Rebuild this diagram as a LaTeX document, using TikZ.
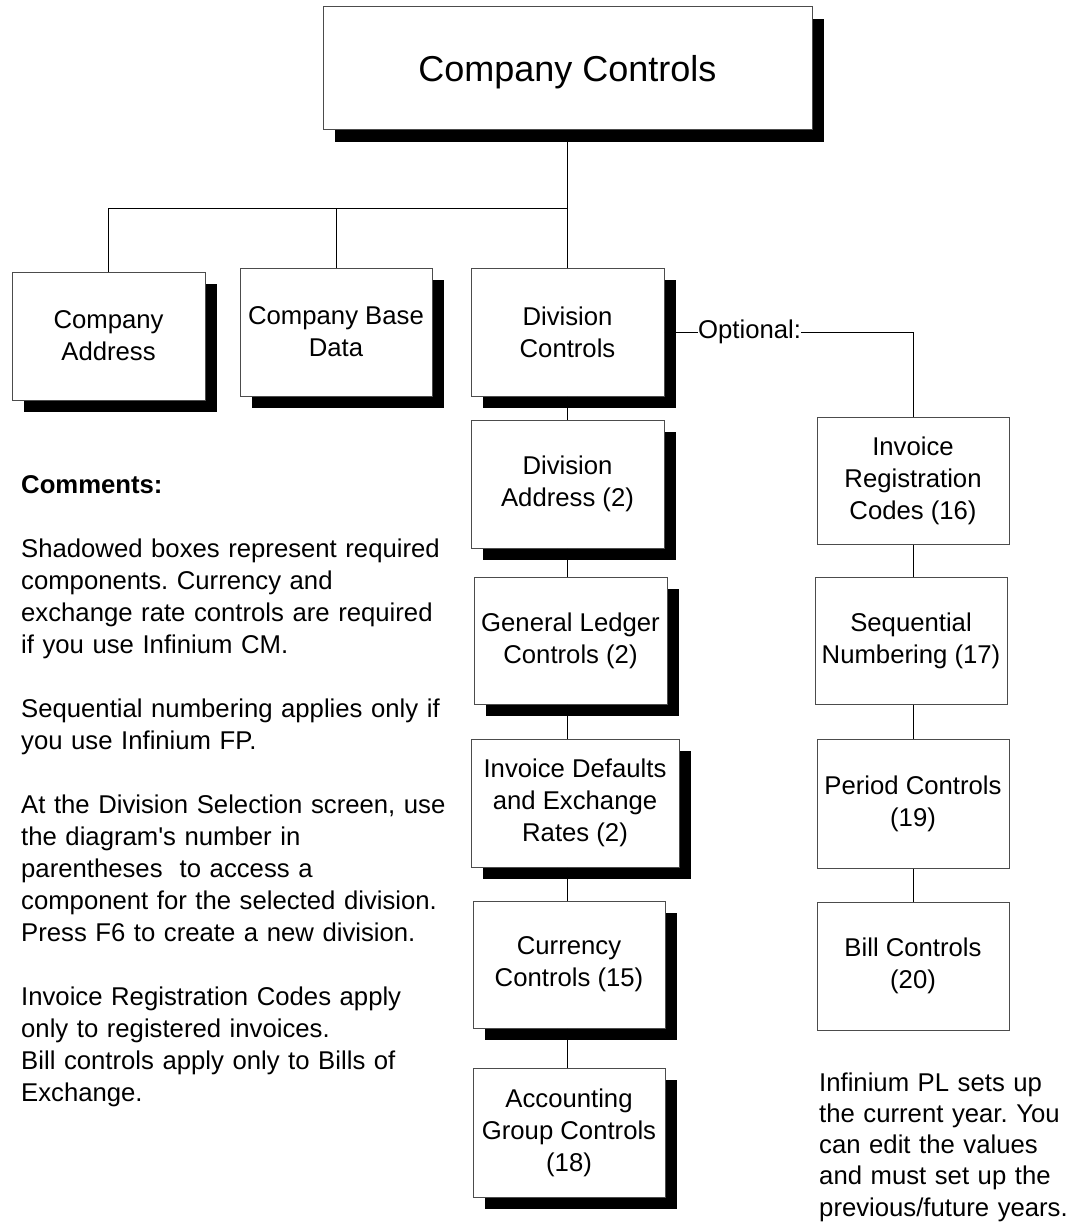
\documentclass[tikz,border=0pt]{standalone}
\usepackage{fontspec}
\setmainfont{Liberation Sans}[Ligatures=TeXOff]
\usetikzlibrary{shadows}
\frenchspacing
\begin{document}
\frenchspacing
\begin{tikzpicture}[x=1pt,y=-1pt,
  every node/.style={font=\fontsize{25.7}{32}\selectfont},
  box/.style={draw=black!70, line width=1pt, fill=white, align=center, inner sep=0pt},
  shadowbox/.style={box, drop shadow={shadow xshift=12pt, shadow yshift=-12pt, opacity=1, fill=black}},
  link/.style={draw=black, line width=1pt},
  note/.style={align=left, inner sep=0pt, anchor=base west}
]
\useasboundingbox[fill=white] (0,0) rectangle (1071,1225);

% top level
\node[shadowbox, minimum width=489pt, minimum height=123pt, text depth=0pt,
      font=\fontsize{36}{42}\selectfont] (cc) at (567.5,68.5) {Company Controls};

% second level
\node[shadowbox, minimum width=193pt, minimum height=128pt] (ca)  at (108.5,336) {Company\\Address};
\node[shadowbox, minimum width=192pt, minimum height=128pt] (cbd) at (336,332)   {Company Base\\Data};
\node[shadowbox, minimum width=193pt, minimum height=128pt] (dc)  at (567.5,332) {Division\\Controls};

% division components (required)
\node[shadowbox, minimum width=193pt, minimum height=128pt] (da)   at (567.5,484)   {Division\\Address (2)};
\node[shadowbox, minimum width=193pt, minimum height=127pt] (gl)   at (570.5,640.5) {General Ledger\\Controls (2)};
\node[shadowbox, minimum width=208pt, minimum height=128pt] (ider) at (575,803)     {Invoice Defaults\\and Exchange\\Rates (2)};
\node[shadowbox, minimum width=192pt, minimum height=127pt] (cur)  at (569,964.5)   {Currency\\Controls (15)};
\node[shadowbox, minimum width=192pt, minimum height=129pt] (agc)  at (569,1132.5)  {Accounting\\Group Controls\\(18)};

% optional components
\node[inner sep=0pt, anchor=west] (opt) at (698,332) {Optional:};
\node[box, minimum width=192pt, minimum height=127pt] (irc)  at (913,480.5) {Invoice\\Registration\\Codes (16)};
\node[box, minimum width=192pt, minimum height=127pt] (seq)  at (911,640.5) {Sequential\\Numbering (17)};
\node[box, minimum width=192pt, minimum height=129pt] (per)  at (913,803.5) {Period Controls\\(19)};
\node[box, minimum width=192pt, minimum height=128pt] (bill) at (913,966)   {Bill Controls\\(20)};

% connectors
\coordinate (bar) at (567,208);
\coordinate (midcol) at (567,0);
\coordinate (rcol) at (913,0);
\draw[link] (cc.south -| midcol) -- (dc.north -| midcol);
\draw[link] (ca.north) |- (bar);
\draw[link] (cbd.north) -- (cbd.north |- bar);
\draw[link] (dc.south -| midcol) -- (da.north -| midcol);
\draw[link] (da.south -| midcol) -- (gl.north -| midcol);
\draw[link] (gl.south -| midcol) -- (ider.north -| midcol);
\draw[link] (ider.south -| midcol) -- (cur.north -| midcol);
\draw[link] (cur.south -| midcol) -- (agc.north -| midcol);
\draw[link] (dc.east) -- (opt.west);
\draw[link] (opt.east) -| (irc.north -| rcol);
\draw[link] (irc.south -| rcol) -- (seq.north -| rcol);
\draw[link] (seq.south -| rcol) -- (per.north -| rcol);
\draw[link] (per.south -| rcol) -- (bill.north -| rcol);

% notes
\node[note, text width=470pt] (comments) at (21,493) {\frenchspacing
\textbf{Comments:}\\[32pt]
Shadowed boxes represent required\\
components. Currency and\\
exchange rate controls are required\\
if you use Infinium CM.\\[32pt]
Sequential numbering applies only if\\
you use Infinium FP.\\[32pt]
At the Division Selection screen, use\\
the diagram's number in\\
parentheses~ to access a\\
component for the selected division.\\
Press F6 to create a new division.\\[32pt]
Invoice Registration Codes apply\\
only to registered invoices.\\
Bill controls apply only to Bills of\\
Exchange.};

\node[note, text width=260pt, font=\fontsize{25.7}{31.3}\selectfont] (plnote) at (819,1091) {\frenchspacing
Infinium PL sets up\\
the current year. You\\
can edit the values\\
and must set up the\\
previous/future years.};
\end{tikzpicture}
\end{document}
